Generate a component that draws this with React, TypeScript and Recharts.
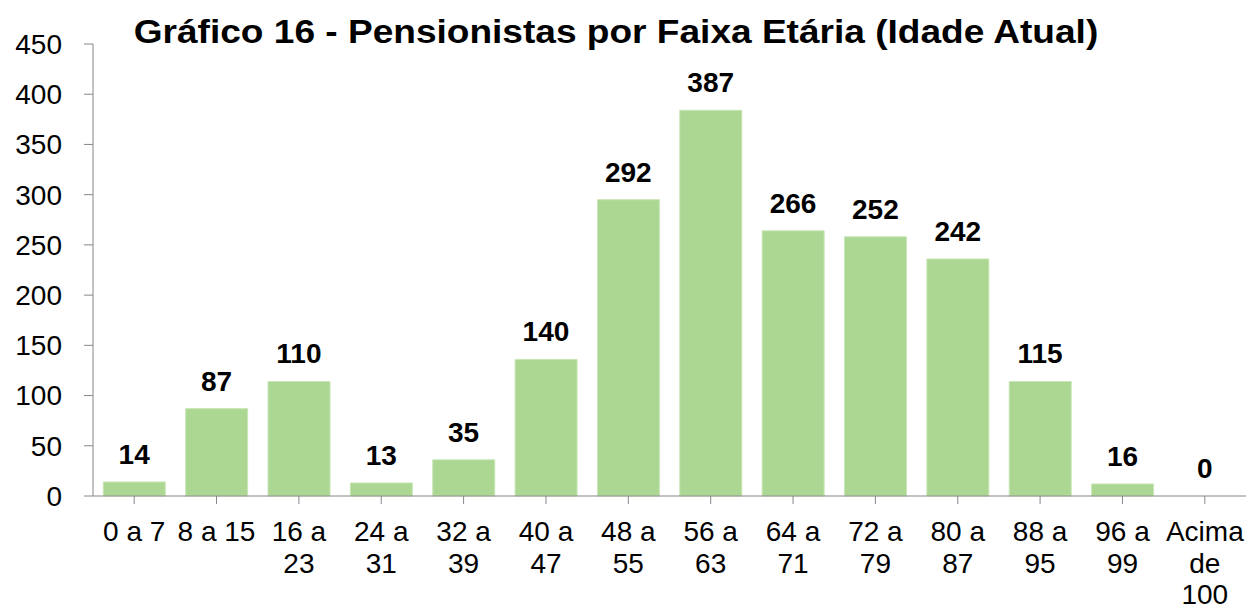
import { ComposedChart, Bar, Line, XAxis, YAxis, LabelList } from "recharts";

/* ─── Dados do gráfico ─── */

const FAIXAS = [
  "0 a 7",
  "8 a 15",
  "16 a 23",
  "24 a 31",
  "32 a 39",
  "40 a 47",
  "48 a 55",
  "56 a 63",
  "64 a 71",
  "72 a 79",
  "80 a 87",
  "88 a 95",
  "96 a 99",
  "Acima de 100",
];

// altura das barras como desenhadas no original
const PENSIONISTAS = [14, 87, 114, 13, 36, 136, 295, 384, 264, 258, 236, 114, 12, 0];

// rótulos impressos sobre as barras
const ROTULOS = [14, 87, 110, 13, 35, 140, 292, 387, 266, 252, 242, 115, 16, 0];

const Y_TICKS = [0, 50, 100, 150, 200, 250, 300, 350, 400, 450];

const FONT = '"Liberation Sans", Arial, sans-serif';
const AXIS_GRAY = "#868686";
const BAR_GREEN = "#acd793";
const TICK_SIZE = 28;

const data = FAIXAS.map((faixa, i) => ({
  faixa,
  total: PENSIONISTAS[i],
  rotulo: ROTULOS[i],
}));

// larguras aproximadas (em em) da Arial, para quebrar os rótulos do eixo
const charWidth = (c: string) => {
  if (c === " ") return 0.278;
  if (c === "A") return 0.667;
  if (c === "c") return 0.5;
  if (c === "i") return 0.222;
  if (c === "m") return 0.833;
  return 0.556;
};
const textWidth = (s: string) => s.split("").reduce((w, c) => w + charWidth(c), 0) * TICK_SIZE;

function wrap(label: string, max: number) {
  const lines: string[] = [];
  let cur = "";
  for (const word of label.split(" ")) {
    const next = cur ? cur + " " + word : word;
    if (cur && textWidth(next) > max) {
      lines.push(cur);
      cur = word;
    } else {
      cur = next;
    }
  }
  if (cur) lines.push(cur);
  return lines;
}

function FaixaTick({ x, y, payload }: any) {
  const lines = wrap(String(payload.value), 80);
  return (
    <text x={x} y={y} textAnchor="middle" fontSize={TICK_SIZE} fontFamily={FONT} fill="#000">
      {lines.map((l, i) => (
        <tspan key={i} x={x} dy={i === 0 ? "0.71em" : 31.7}>
          {l}
        </tspan>
      ))}
    </text>
  );
}

function Rotulo(props: any) {
  const { x, y, value } = props;
  return (
    <text
      x={x}
      y={Number(y) - 18}
      textAnchor="middle"
      fontSize={28}
      fontWeight={700}
      fontFamily={FONT}
      fill="#000"
    >
      {String(value)}
    </text>
  );
}

export default function App() {
  return (
    <div
      style={{
        position: "absolute",
        left: 0,
        top: 0,
        width: 1252,
        height: 610,
        background: "#fff",
        fontFamily: FONT,
      }}
    >
      <div
        style={{
          position: "absolute",
          left: 0,
          width: 1232,
          top: 11,
          textAlign: "center",
          fontSize: 34,
          fontWeight: 700,
          lineHeight: "40px",
          color: "#000",
          transform: "scaleX(1.09)",
          transformOrigin: "616px 0",
          whiteSpace: "nowrap",
        }}
      >
        Gráfico 16 - Pensionistas por Faixa Etária (Idade Atual)
      </div>
      <ComposedChart
        width={1252}
        height={610}
        data={data}
        margin={{ top: 44, right: 6, bottom: 0, left: 0 }}
        barCategoryGap="12.5%"
      >
        <XAxis
          dataKey="faixa"
          interval={0}
          height={114}
          tickSize={8}
          tickMargin={17}
          stroke={AXIS_GRAY}
          tickLine={{ stroke: AXIS_GRAY }}
          tick={<FaixaTick />}
        />
        <YAxis
          domain={[0, 450]}
          ticks={Y_TICKS}
          width={93}
          tickSize={9}
          tickMargin={22}
          stroke={AXIS_GRAY}
          tickLine={{ stroke: AXIS_GRAY }}
          tick={{ fontSize: 28, fill: "#000", fontFamily: FONT }}
        />
        <Bar dataKey="total" fill={BAR_GREEN} stroke="#c9e6b6" strokeWidth={1} isAnimationActive={false} />
        {/* série invisível só para posicionar os rótulos (inclusive o zero) */}
        <Line
          dataKey="total"
          stroke="none"
          dot={false}
          activeDot={false}
          legendType="none"
          isAnimationActive={false}
        >
          <LabelList dataKey="rotulo" content={<Rotulo />} />
        </Line>
      </ComposedChart>
    </div>
  );
}
